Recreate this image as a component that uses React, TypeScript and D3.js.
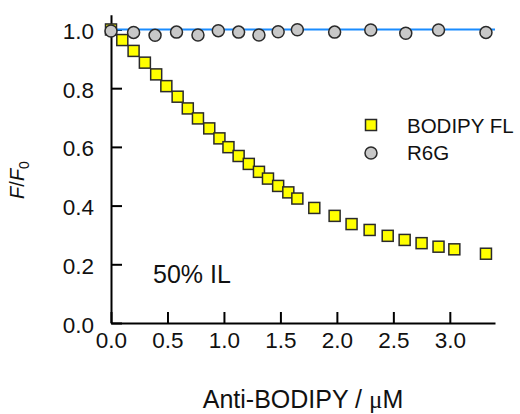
import * as d3 from "d3";
import React from "react";

// BODIPY FL quenching by anti-BODIPY (x in uM, y = F/F0)
const bodipyX = [0, 0.1, 0.2, 0.3, 0.4, 0.49, 0.59, 0.68, 0.77, 0.87, 0.96, 1.04, 1.13, 1.22, 1.31, 1.39, 1.48, 1.57, 1.65, 1.8, 1.98, 2.13, 2.29, 2.45, 2.6, 2.75, 2.9, 3.04, 3.32];
const bodipyY = [1.0, 0.964, 0.927, 0.887, 0.847, 0.807, 0.771, 0.731, 0.697, 0.663, 0.629, 0.599, 0.569, 0.542, 0.515, 0.492, 0.467, 0.445, 0.424, 0.392, 0.365, 0.337, 0.317, 0.297, 0.283, 0.272, 0.26, 0.251, 0.236];

// R6G control
const r6gX = [0, 0.2, 0.39, 0.58, 0.77, 0.95, 1.13, 1.31, 1.48, 1.65, 1.98, 2.3, 2.61, 2.9, 3.32];
const r6gY = [0.995, 0.99, 0.98, 0.991, 0.981, 0.996, 0.991, 0.981, 0.992, 0.999, 0.991, 0.998, 0.987, 0.998, 0.99];

const xTicks = [0, 0.5, 1.0, 1.5, 2.0, 2.5, 3.0];
const yTicks = [0, 0.2, 0.4, 0.6, 0.8, 1.0];
const fitLine = [
  { x: 0, y: 1.0 },
  { x: 3.4, y: 1.0 },
];

export default function App() {
  const ref = React.useRef<SVGSVGElement | null>(null);

  React.useEffect(() => {
    const svg = d3.select(ref.current);
    svg.selectAll("*").remove();

    const font = "'Liberation Sans', Arial, sans-serif";
    const left = 111;
    const right = 495;
    const top = 14.8;
    const bottom = 323;

    const x = d3.scaleLinear().domain([0, 3.4]).range([left, right]);
    const y = d3.scaleLinear().domain([0, 1.05]).range([bottom, top]);

    // axes (ticks point inward)
    const xAxis = svg
      .append("g")
      .attr("transform", `translate(0, ${bottom})`)
      .call(
        d3.axisBottom(x).tickValues(xTicks).tickSize(-11).tickSizeOuter(0).tickFormat(d3.format(".1f"))
      );
    xAxis.select(".domain").attr("stroke-width", 2);
    xAxis.selectAll(".tick line").attr("stroke-width", 2);
    xAxis
      .selectAll(".tick text")
      .style("font-family", font)
      .style("font-size", "22.5px")
      .attr("y", 24.5)
      .attr("dy", 0)
      .attr("fill", "#111");

    const yAxis = svg
      .append("g")
      .attr("transform", `translate(${left}, 0)`)
      .call(
        d3.axisLeft(y).tickValues(yTicks).tickSize(-11).tickSizeOuter(0).tickPadding(17).tickFormat(d3.format(".1f"))
      );
    yAxis.select(".domain").attr("stroke-width", 2);
    yAxis.selectAll(".tick line").attr("stroke-width", 2);
    yAxis
      .selectAll(".tick text")
      .style("font-family", font)
      .style("font-size", "22.5px")
      .attr("dy", "0.4em")
      .attr("fill", "#111");

    // blue reference line at 1.0
    svg
      .append("path")
      .datum(fitLine)
      .attr("fill", "none")
      .attr("stroke", "#1a8cff")
      .attr("stroke-width", 2)
      .attr(
        "d",
        d3
          .line<{ x: number; y: number }>()
          .x((d) => x(d.x))
          .y((d) => y(d.y))
      );

    const sq = 11;
    svg
      .append("g")
      .selectAll("rect")
      .data(bodipyX.map((v, i) => ({ x: v, y: bodipyY[i] })))
      .enter()
      .append("rect")
      .attr("x", (d) => x(d.x) - sq / 2)
      .attr("y", (d) => y(d.y) - sq / 2)
      .attr("width", sq)
      .attr("height", sq)
      .attr("fill", "#ffff00")
      .attr("stroke", "#2a2a2a")
      .attr("stroke-width", 1.5);

    svg
      .append("g")
      .selectAll("circle")
      .data(r6gX.map((v, i) => ({ x: v, y: r6gY[i] })))
      .enter()
      .append("circle")
      .attr("cx", (d) => x(d.x))
      .attr("cy", (d) => y(d.y))
      .attr("r", 6)
      .attr("fill", "#c8c8c8")
      .attr("stroke", "#2a2a2a")
      .attr("stroke-width", 1.5);

    // legend
    const lg = svg.append("g");
    lg.append("rect")
      .attr("x", 371 - sq / 2)
      .attr("y", 125 - sq / 2)
      .attr("width", sq)
      .attr("height", sq)
      .attr("fill", "#ffff00")
      .attr("stroke", "#2a2a2a")
      .attr("stroke-width", 1.5);
    lg.append("circle")
      .attr("cx", 371)
      .attr("cy", 153)
      .attr("r", 6)
      .attr("fill", "#c8c8c8")
      .attr("stroke", "#2a2a2a")
      .attr("stroke-width", 1.5);
    lg.selectAll("text")
      .data([
        { t: "BODIPY FL", y: 132.5 },
        { t: "R6G", y: 160 },
      ])
      .enter()
      .append("text")
      .attr("x", 407)
      .attr("y", (d) => d.y)
      .style("font-family", font)
      .style("font-size", "20.5px")
      .attr("fill", "#111")
      .text((d) => d.t);

    // annotation
    svg
      .append("text")
      .attr("x", 153)
      .attr("y", 283)
      .style("font-family", font)
      .style("font-size", "25px")
      .attr("fill", "#111")
      .text("50% IL");

    // x label
    const xl = svg
      .append("text")
      .attr("x", 303)
      .attr("y", 408)
      .attr("text-anchor", "middle")
      .style("font-family", font)
      .style("font-size", "25px")
      .attr("fill", "#111");
    xl.append("tspan").text("Anti-BODIPY / ");
    xl.append("tspan").style("font-family", "'Liberation Serif', 'DejaVu Serif', serif").text("\u03bc");
    xl.append("tspan").text("M");

    // y label
    const yl = svg
      .append("text")
      .attr("transform", "translate(24, 180) rotate(-90)")
      .attr("text-anchor", "middle")
      .style("font-family", font)
      .style("font-size", "20px")
      .attr("fill", "#111");
    yl.append("tspan").style("font-style", "italic").text("F");
    yl.append("tspan").text("/");
    yl.append("tspan").style("font-style", "italic").text("F");
    yl.append("tspan").attr("dy", 5).style("font-size", "14px").text("0");
  }, []);

  return (
    <svg
      ref={ref}
      width={520}
      height={414}
      style={{ position: "absolute", left: 0, top: 0, background: "#fff" }}
    />
  );
}
